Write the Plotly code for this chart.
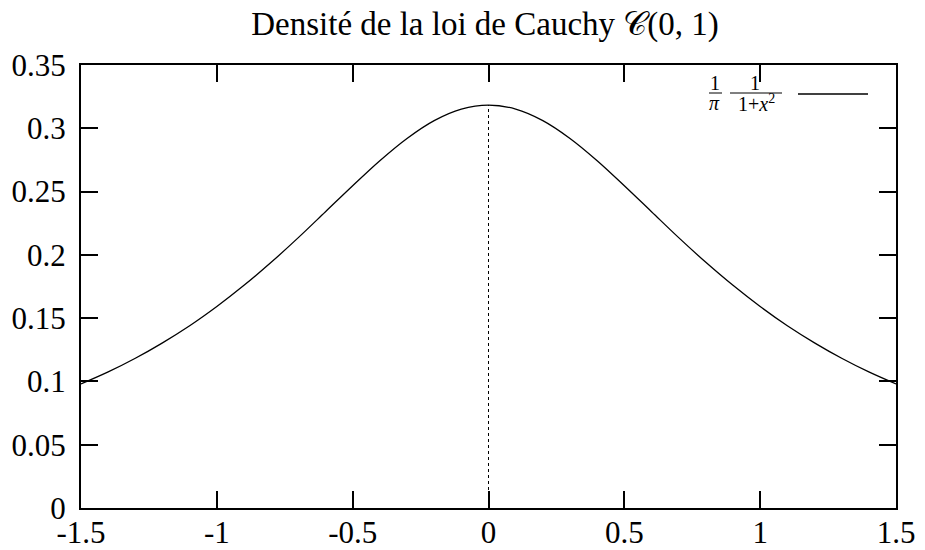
import plotly.graph_objects as go

# Values (density of Cauchy(0,1))
x_vals = [-1.5, -1.4, -1.3, -1.2, -1.1, -1.0, -0.9, -0.8, -0.7, -0.6, -0.5,
          -0.4, -0.3, -0.2, -0.1, 0.0, 0.1, 0.2, 0.3, 0.4, 0.5, 0.6, 0.7,
          0.8, 0.9, 1.0, 1.1, 1.2, 1.3, 1.4, 1.5]
y_vals = [0.098, 0.1075, 0.1183, 0.1305, 0.144, 0.1592, 0.1759, 0.1941, 0.2136,
          0.2341, 0.2546, 0.2744, 0.292, 0.3061, 0.3152, 0.3183, 0.3152, 0.3061,
          0.292, 0.2744, 0.2546, 0.2341, 0.2136, 0.1941, 0.1759, 0.1592, 0.144,
          0.1305, 0.1183, 0.1075, 0.098]
peak_x = [0.0, 0.0]
peak_y = [0.0, 0.3183]

x_ticks = [-1.5, -1.0, -0.5, 0.0, 0.5, 1.0, 1.5]
x_labels = ["-1.5", "-1", "-0.5", "0", "0.5", "1", "1.5"]
y_ticks = [0, 0.05, 0.1, 0.15, 0.2, 0.25, 0.3, 0.35]
y_labels = ["0", "0.05", "0.1", "0.15", "0.2", "0.25", "0.3", "0.35"]

FONT = "Liberation Serif"
OFF = 8  # page body margin
W, H = 925 - OFF, 550 - OFF
# plot area in reference (screen) pixels
L, R, T, B = 81, 896, 65, 508

def px(xp):
    return (xp - L) / (R - L)

def py(yp):
    return (B - yp) / (B - T)

fig = go.Figure()
fig.add_trace(go.Scatter(x=peak_x, y=peak_y, mode="lines",
                         line=dict(color="black", width=1, dash="dot"),
                         showlegend=False, hoverinfo="skip"))
fig.add_trace(go.Scatter(x=x_vals, y=y_vals, mode="lines",
                         line=dict(color="black", width=1.3, shape="spline"),
                         showlegend=False))

axis_common = dict(showline=True, linecolor="black", linewidth=2, mirror="ticks",
                   ticks="inside", ticklen=17, tickwidth=2, tickcolor="black",
                   showgrid=False, zeroline=False, automargin=False,
                   tickfont=dict(family=FONT, size=31, color="black"))

fig.update_xaxes(range=[-1.5, 1.5], tickvals=x_ticks, ticktext=x_labels,
                 ticklabelstandoff=-4, **axis_common)
fig.update_yaxes(range=[0, 0.35], tickvals=y_ticks, ticktext=y_labels,
                 ticklabelstandoff=7, **axis_common)

ann = []
small = dict(family=FONT, size=20, color="black")
# legend formula: 1/pi * 1/(1+x^2)
ann.append(dict(x=px(715), y=py(83), text="1", font=small))
ann.append(dict(x=px(714), y=py(103), text="<i>π</i>", font=small))
ann.append(dict(x=px(755), y=py(83), text="1", font=small))
ann.append(dict(x=px(756), y=py(103), text="1+<i>x</i><sup>2</sup>", font=small))
for a in ann:
    a.update(xref="paper", yref="paper", showarrow=False, xanchor="center", yanchor="middle")

shapes = [
    dict(type="line", xref="paper", yref="paper", x0=px(709), x1=px(722), y0=py(93), y1=py(93),
         line=dict(color="black", width=1)),
    dict(type="line", xref="paper", yref="paper", x0=px(730), x1=px(782), y0=py(93), y1=py(93),
         line=dict(color="black", width=1)),
    dict(type="line", xref="paper", yref="paper", x0=px(798), x1=px(868), y0=py(94), y1=py(94),
         line=dict(color="black", width=1.3)),
]

fig.update_layout(
    width=W, height=H,
    margin=dict(l=L - OFF, r=925 - R, t=T - OFF, b=550 - B, pad=0, autoexpand=False),
    paper_bgcolor="white", plot_bgcolor="white",
    title=dict(text="Densité de la loi de Cauchy 𝒞(0, 1)", x=(485 - OFF) / W, xanchor="center",
               y=1 - (23 - OFF) / H, yanchor="middle",
               font=dict(family=FONT, size=33, color="black")),
    annotations=ann, shapes=shapes, showlegend=False,
)

fig.write_html("out.html")
